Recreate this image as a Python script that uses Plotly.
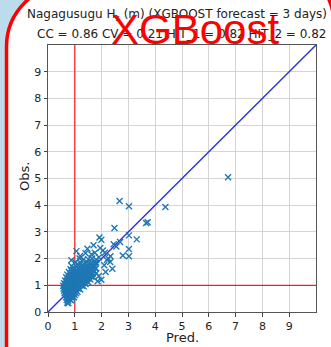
import plotly.graph_objects as go

# ---------------- data ----------------
pred = [
    0.70, 0.75, 0.78, 0.82, 0.86, 0.90, 0.72, 0.76,
    0.68, 0.73, 0.80, 0.85, 0.92, 0.97, 0.62,
    0.66, 0.72, 0.77, 0.83, 0.88, 0.94, 1.00, 1.05,
    0.60, 0.64, 0.70, 0.76, 0.81, 0.87, 0.93, 0.99, 1.04, 1.10,
    0.58, 0.66, 0.72, 0.78, 0.84, 0.90, 0.96, 1.02, 1.08, 1.14, 1.20,
    0.57, 0.65, 0.71, 0.77, 0.83, 0.89, 0.95, 1.01, 1.07, 1.13, 1.19, 1.26, 1.34,
    0.60, 0.68, 0.74, 0.80, 0.86, 0.92, 0.98, 1.04, 1.10, 1.16, 1.22, 1.30, 1.40, 1.52,
    0.64, 0.72, 0.78, 0.84, 0.90, 0.96, 1.02, 1.08, 1.14, 1.20, 1.27, 1.35, 1.45, 1.58,
    0.68, 0.76, 0.82, 0.88, 0.94, 1.00, 1.06, 1.12, 1.18, 1.25, 1.32, 1.40, 1.50, 1.62,
    0.72, 0.80, 0.87, 0.93, 1.00, 1.06, 1.12, 1.18, 1.24, 1.31, 1.38, 1.45, 1.55, 1.66,
    0.78, 0.85, 0.92, 0.99, 1.06, 1.13, 1.20, 1.27, 1.34, 1.42, 1.50, 1.60, 1.72,
    0.84, 0.90, 0.98, 1.06, 1.14, 1.22, 1.30, 1.38, 1.46, 1.55, 1.65, 1.78,
    0.88, 0.95, 1.05, 1.15, 1.25, 1.35, 1.45, 1.55, 1.65, 1.76,
    1.02, 1.10, 1.22, 1.34, 1.46, 1.58, 1.70, 1.80,
    1.18, 1.30, 1.50, 1.65, 1.80, 1.90,
    0.87, 1.06, 1.47, 1.62, 1.75, 1.95, 2.05, 1.92, 1.99, 2.69,
    2.45, 2.55, 2.12, 2.33, 2.32, 2.40, 1.99, 1.80, 1.70, 2.10,
    2.20, 1.85, 1.90, 1.40, 1.20, 1.70, 2.15, 2.25,
    2.67, 3.02, 4.38, 3.66, 3.72, 2.48, 3.02, 3.31, 3.02, 2.79, 3.02, 6.72,
]
obs = [
    0.45, 0.42, 0.50, 0.47, 0.44, 0.52, 0.35, 0.33,
    0.55, 0.58, 0.60, 0.56, 0.60, 0.55, 0.70,
    0.65, 0.68, 0.63, 0.70, 0.66, 0.68, 0.64, 0.70,
    0.80, 0.75, 0.78, 0.74, 0.80, 0.77, 0.79, 0.74, 0.80, 0.76,
    0.88, 0.85, 0.88, 0.84, 0.90, 0.86, 0.89, 0.85, 0.90, 0.87, 0.84,
    0.98, 0.95, 0.98, 0.94, 1.00, 0.96, 1.00, 0.95, 1.00, 0.97, 1.02, 0.98, 0.96,
    1.08, 1.05, 1.08, 1.04, 1.10, 1.06, 1.10, 1.05, 1.10, 1.06, 1.12, 1.08, 1.05, 1.10,
    1.18, 1.15, 1.18, 1.14, 1.20, 1.16, 1.20, 1.15, 1.20, 1.17, 1.22, 1.18, 1.15, 1.22,
    1.30, 1.25, 1.28, 1.24, 1.30, 1.26, 1.30, 1.25, 1.30, 1.27, 1.32, 1.28, 1.26, 1.32,
    1.40, 1.35, 1.38, 1.34, 1.40, 1.36, 1.40, 1.35, 1.40, 1.37, 1.42, 1.38, 1.36, 1.42,
    1.50, 1.45, 1.48, 1.44, 1.50, 1.46, 1.50, 1.47, 1.52, 1.48, 1.50, 1.46, 1.52,
    1.60, 1.55, 1.58, 1.56, 1.60, 1.57, 1.62, 1.58, 1.62, 1.60, 1.56, 1.62,
    1.72, 1.66, 1.70, 1.67, 1.72, 1.68, 1.74, 1.70, 1.75, 1.68,
    1.86, 1.80, 1.84, 1.80, 1.86, 1.82, 1.88, 1.85,
    2.00, 1.95, 1.98, 2.00, 1.96, 2.05,
    1.94, 2.28, 2.37, 2.15, 2.22, 2.40, 2.30, 2.79, 2.71, 2.62,
    2.54, 2.45, 2.22, 2.09, 1.87, 1.62, 1.21, 1.45, 1.30, 1.75,
    1.95, 1.15, 1.35, 2.20, 2.10, 2.50, 1.50, 2.00,
    4.16, 3.96, 3.93, 3.33, 3.36, 3.15, 2.87, 2.72, 2.36, 2.12, 2.09, 5.05,
]
axis_limits = [0, 10]
tick_values = [0, 1, 2, 3, 4, 5, 6, 7, 8, 9]
threshold = 1
title_line1 = "Nagagusugu H<sub>s</sub> (m) (XGBOOST forecast = 3 days)"
title_line2 = "CC = 0.86 CV = 0.21 HIT_1 = 0.82 HIT_2 = 0.82"
overlay_text = "XGBoost"

# ---------------- layout geometry (pixels) ----------------
W, H = 331, 347
L, R, T, B = 48, 15, 45, 35
PW, PH = W - L - R, H - T - B


def px(x):
    return (x - L) / PW


def py(y):
    return (H - B - y) / PH


fig = go.Figure()

# diagonal 1:1 line
fig.add_trace(go.Scatter(x=axis_limits, y=axis_limits, mode="lines",
                         line=dict(color="#2f2fd8", width=1.4),
                         hoverinfo="skip", showlegend=False))
# scatter
fig.add_trace(go.Scatter(x=pred, y=obs, mode="markers",
                         marker=dict(symbol="x-thin", size=6,
                                     line=dict(color="#1f77b4", width=1.4),
                                     color="#1f77b4"),
                         showlegend=False))

# rounded-rectangle overlay path (paper coords)
k = 0.5523
r = 62
lx, ltop = 6.5, -15.5
rx, rtop = 334, -37.6
bot = 380


def P(x, y):
    return f"{px(x):.5f},{py(y):.5f}"


path = (f"M {P(lx, bot)} L {P(lx, ltop + r)} "
        f"C {P(lx, ltop + r - k * r)} {P(lx + r - k * r, ltop)} {P(lx + r, ltop)} "
        f"L {P(rx - r, rtop)} "
        f"C {P(rx - r + k * r, rtop)} {P(rx, rtop + r - k * r)} {P(rx, rtop + r)} "
        f"L {P(rx, bot)} Z")

shapes = [
    dict(type="path", path=path, xref="paper", yref="paper",
         fillcolor="white", line=dict(width=0), layer="below"),
    dict(type="line", x0=threshold, x1=threshold, y0=axis_limits[0], y1=axis_limits[1],
         xref="x", yref="y", line=dict(color="#ff1a1a", width=1.2), layer="between"),
    dict(type="line", y0=threshold, y1=threshold, x0=axis_limits[0], x1=axis_limits[1],
         xref="x", yref="y", line=dict(color="#ff1a1a", width=1.2), layer="between"),
    dict(type="path", path=path, xref="paper", yref="paper",
         fillcolor="rgba(0,0,0,0)", line=dict(color="#ff0000", width=3.5), layer="above"),
]

font_main = "DejaVu Sans"
annotations = [
    dict(text=title_line1, x=px(177), y=py(15), xref="paper", yref="paper",
         showarrow=False, xanchor="center", yanchor="middle",
         font=dict(family=font_main, size=12, color="#222")),
    dict(text=title_line2, x=px(181), y=py(34), xref="paper", yref="paper",
         showarrow=False, xanchor="center", yanchor="middle",
         font=dict(family=font_main, size=12, color="#222")),
    dict(text="Obs.", x=px(24), y=py(177), xref="paper", yref="paper",
         showarrow=False, xanchor="center", yanchor="middle", textangle=-90,
         font=dict(family=font_main, size=13, color="#222")),
    dict(text="Pred.", x=px(182), y=py(337), xref="paper", yref="paper",
         showarrow=False, xanchor="center", yanchor="middle",
         font=dict(family=font_main, size=13, color="#222")),
    dict(text=overlay_text, x=px(195), y=py(29), xref="paper", yref="paper",
         showarrow=False, xanchor="center", yanchor="middle",
         font=dict(family="Liberation Sans, Arial, sans-serif", size=42, color="#ff0000")),
]

axis_common = dict(range=axis_limits, tickvals=tick_values, ticks="outside",
                   ticklen=3.5, tickwidth=1, tickcolor="#444",
                   showgrid=True, gridcolor="#d4d4d4", gridwidth=1,
                   showline=True, linecolor="#555", linewidth=1, mirror=True,
                   zeroline=False, fixedrange=True,
                   tickfont=dict(family=font_main, size=11, color="#222"))

fig.update_layout(
    width=W, height=H,
    margin=dict(l=L, r=R, t=T, b=B, pad=0),
    paper_bgcolor="#bcdcec",
    plot_bgcolor="white",
    xaxis=axis_common,
    yaxis=axis_common,
    shapes=shapes,
    annotations=annotations,
    showlegend=False,
)

fig.write_html("out.html")
